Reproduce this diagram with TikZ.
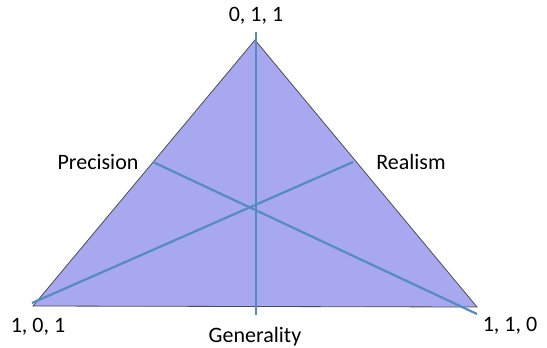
\documentclass[tikz,border=0pt]{standalone}
\usepackage{fontspec}
\setmainfont{Carlito}
\definecolor{trifill}{RGB}{168,168,240}
\definecolor{axisblue}{RGB}{84,140,192}

\begin{document}
\begin{tikzpicture}[x=1pt,y=-1pt,
    lbl/.style={font=\fontsize{22}{24}\selectfont},
    axis/.style={axisblue,line width=2.2pt}]
  \useasboundingbox (0,0) rectangle (547,348);

  \coordinate (top) at (255,40);
  \coordinate (left) at (33,306);
  \coordinate (right) at (477,307);
  \filldraw[fill=trifill,draw=black!70,line width=0.8pt] (top) -- (left) -- (right) -- cycle;

  % axes through the middle
  \coordinate (gtop) at (256,32);
  \coordinate (gbot) at (256,315);
  \coordinate (prec) at (153,162);
  \coordinate (pend) at (477,314);
  \coordinate (real) at (353,162);
  \coordinate (rend) at (32,303);
  \draw[axis] (gtop) -- (gbot);
  \draw[axis] (prec) -- (pend);
  \draw[axis] (real) -- (rend);

  \node[lbl] (ntop) at (256,16) {0, 1, 1};
  \node[lbl] (nleft) at (38,327) {1, 0, 1};
  \node[lbl] (nright) at (510,326) {1, 1, 0};
  \node[lbl] (nprec) at (98,162) {Precision};
  \node[lbl] (nreal) at (411,162) {Realism};
  \node[lbl] (ngen) at (255,337) {Generality};
\end{tikzpicture}
\end{document}
